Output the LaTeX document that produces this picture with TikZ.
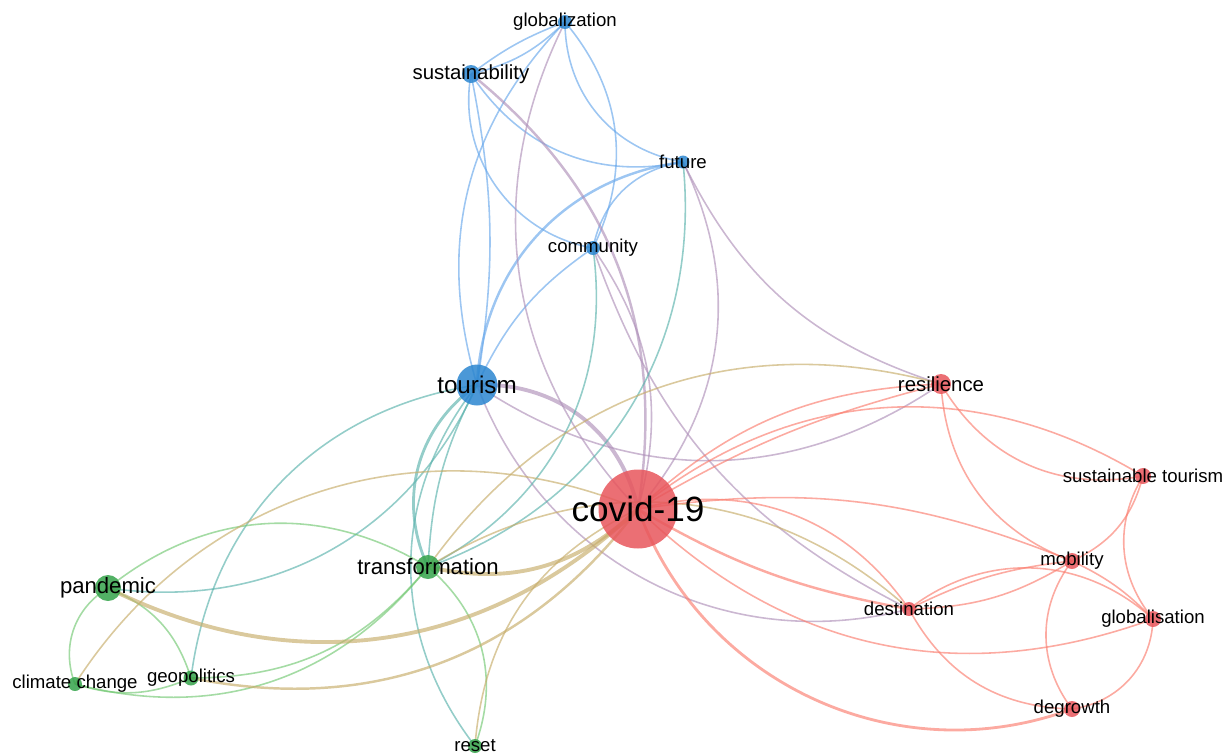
\documentclass[tikz,border=0pt]{standalone}
\usepackage{fontspec}
\setmainfont{Liberation Sans}
\definecolor{nodeB}{RGB}{43,134,208}
\definecolor{nodeG}{RGB}{52,163,74}
\definecolor{nodeR}{RGB}{232,86,92}
\definecolor{linkB}{RGB}{105,168,235}
\definecolor{linkG}{RGB}{115,200,115}
\definecolor{linkR}{RGB}{250,125,110}
\definecolor{linkBR}{RGB}{175,145,185}
\definecolor{linkBG}{RGB}{90,178,172}
\definecolor{linkGR}{RGB}{198,172,105}
\begin{document}
\begin{tikzpicture}[x=0.02cm,y=-0.02cm,
  link/.style={line width=0.9pt,draw opacity=0.65},
  eB/.style={link,draw=linkB},
  eG/.style={link,draw=linkG},
  eR/.style={link,draw=linkR},
  eBR/.style={link,draw=linkBR},
  eBG/.style={link,draw=linkBG},
  eGR/.style={link,draw=linkGR},
  heavy/.style={line width=2.2pt},
  kw/.style={circle,inner sep=0pt,fill opacity=0.85},
  small/.style={font=\fontsize{10.6}{12}\selectfont},
  wide/.style={font=\fontsize{11.6}{13}\selectfont},
  mid/.style={font=\fontsize{12.6}{14}\selectfont}]
\useasboundingbox (0,0) rectangle (1229,755);
\foreach \n/\x/\y in {glob/565/22, sust/471/74, fut/683/162, comm/593/248,
  tour/477/385, covid/638/509, resil/941/384, sustt/1143/476, mob/1072/561,
  dest/909/609, globa/1153/619, degr/1072/709, trans/428/567, pand/108/588,
  clim/75/684, geo/191/678, reset/475/746}
  \coordinate (\n) at (\x,\y);
% blue cluster
\draw[eB] (glob) to[bend left=15] (sust);
\draw[eB] (glob) to[bend right=8] (sust);
\draw[eB] (glob) to[bend right=30] (tour);
\draw[eB] (glob) to[bend left=33] (comm);
\draw[eB] (glob) to[bend right=40] (fut);
\draw[eB] (sust) to[bend right=34] (fut);
\draw[eB] (sust) to[bend right=45] (comm);
\draw[eB] (sust) to[bend left=10] (tour);
\draw[eB,line width=1.4pt] (fut) to[bend right=40] (tour);
\draw[eB] (fut) to[bend right=35] (comm);
\draw[eB] (comm) to[bend right=15] (tour);
% blue to red
\draw[eBR] (covid) to[bend left=35] (glob);
\draw[eBR,line width=1.4pt] (sust) to[bend left=30] (covid);
\draw[eBR] (fut) to[bend left=33] (covid);
\draw[eBR] (fut) to[bend right=23] (resil);
\draw[eBR] (comm) to[bend left=25] (covid);
\draw[eBR] (comm) to[bend right=22] (dest);
\draw[eBR,heavy] (tour) to[bend left=40] (covid);
\draw[eBR] (tour) to[bend right=34] (resil);
\draw[eBR] (tour) to[bend right=42] (dest);
% blue to green
\draw[eBG] (fut) to[bend left=38] (trans);
\draw[eBG] (comm) to[bend left=35] (trans);
\draw[eBG] (tour) to[bend left=37] (pand);
\draw[eBG] (tour) to[bend right=37] (geo);
\draw[eBG,line width=1.6pt] (tour) to[bend right=40] (trans);
\draw[eBG] (tour) to[bend right=12] (trans);
\draw[eBG] (tour) to[bend right=38] (reset);
% green cluster
\draw[eG] (pand) to[bend left=35] (trans);
\draw[eG] (pand) to[bend right=40] (clim);
\draw[eG] (pand) to[bend left=25] (geo);
\draw[eG] (clim) to[bend right=33] (trans);
\draw[eG] (geo) to[bend right=25] (trans);
\draw[eG] (clim) to[bend right=20] (geo);
\draw[eG] (trans) to[bend left=35] (reset);
% green to red
\draw[eGR,heavy] (pand) to[bend right=35] (covid);
\draw[eGR] (clim) to[bend left=40] (covid);
\draw[eGR,line width=1.4pt] (geo) to[bend right=32] (covid);
\draw[eGR] (reset) to[bend left=30] (covid);
\draw[eGR,heavy] (trans) to[bend right=28] (covid);
\draw[eGR] (trans) to[bend left=35] (resil);
\draw[eGR] (trans) to[bend left=37] (dest);
% red cluster
\draw[eR] (covid) to[bend left=20] (resil);
\draw[eR] (covid) to[bend left=8] (resil);
\draw[eR] (covid) to[bend left=35] (sustt);
\draw[eR] (covid) to[bend left=15] (mob);
\draw[eR] (covid) to[bend left=35] (dest);
\draw[eR,line width=1.4pt] (covid) to[bend right=10] (dest);
\draw[eR] (covid) to[bend right=32] (globa);
\draw[eR,line width=1.6pt] (covid) to[bend right=45] (degr);
\draw[eR] (resil) to[bend right=35] (sustt);
\draw[eR] (resil) to[bend right=33] (mob);
\draw[eR] (mob) to[bend right=25] (sustt);
\draw[eR] (sustt) to[bend right=35] (globa);
\draw[eR] (mob) to[bend left=10] (globa);
\draw[eR] (dest) to[bend left=10] (mob);
\draw[eR] (dest) to[bend right=15] (mob);
\draw[eR] (dest) to[bend left=40] (globa);
\draw[eR] (mob) to[bend right=37] (degr);
\draw[eR] (globa) to[bend left=40] (degr);
\draw[eR] (dest) to[bend right=30] (degr);
% keywords
\node[kw,fill=nodeB,minimum size=0.28cm,label={[small]center:globalization}] (glob-k) at (glob) {};
\node[kw,fill=nodeB,minimum size=0.36cm,label={[wide]center:sustainability}] (sust-k) at (sust) {};
\node[kw,fill=nodeB,minimum size=0.26cm,label={[small]center:future}] (fut-k) at (fut) {};
\node[kw,fill=nodeB,minimum size=0.28cm,label={[small]center:community}] (comm-k) at (comm) {};
\node[kw,fill=nodeB,minimum size=0.82cm,label={[font=\fontsize{13.8}{15}\selectfont]center:tourism}] (tour-k) at (tour) {};
\node[kw,fill=nodeR,minimum size=1.58cm,label={[font=\fontsize{20}{22}\selectfont]center:covid-19}] (covid-k) at (covid) {};
\node[kw,fill=nodeR,minimum size=0.4cm,label={[wide]center:resilience}] (resil-k) at (resil) {};
\node[kw,fill=nodeR,minimum size=0.32cm,label={[small]center:sustainable tourism}] (sustt-k) at (sustt) {};
\node[kw,fill=nodeR,minimum size=0.32cm,label={[small]center:mobility}] (mob-k) at (mob) {};
\node[kw,fill=nodeR,minimum size=0.28cm,label={[small]center:destination}] (dest-k) at (dest) {};
\node[kw,fill=nodeR,minimum size=0.32cm,label={[small]center:globalisation}] (globa-k) at (globa) {};
\node[kw,fill=nodeR,minimum size=0.32cm,label={[small]center:degrowth}] (degr-k) at (degr) {};
\node[kw,fill=nodeG,minimum size=0.48cm,label={[mid]center:transformation}] (trans-k) at (trans) {};
\node[kw,fill=nodeG,minimum size=0.52cm,label={[mid]center:pandemic}] (pand-k) at (pand) {};
\node[kw,fill=nodeG,minimum size=0.28cm,label={[small]center:climate change}] (clim-k) at (clim) {};
\node[kw,fill=nodeG,minimum size=0.3cm,label={[small]center:geopolitics}] (geo-k) at (geo) {};
\node[kw,fill=nodeG,minimum size=0.28cm,label={[small]center:reset}] (reset-k) at (reset) {};
\end{tikzpicture}
\end{document}
